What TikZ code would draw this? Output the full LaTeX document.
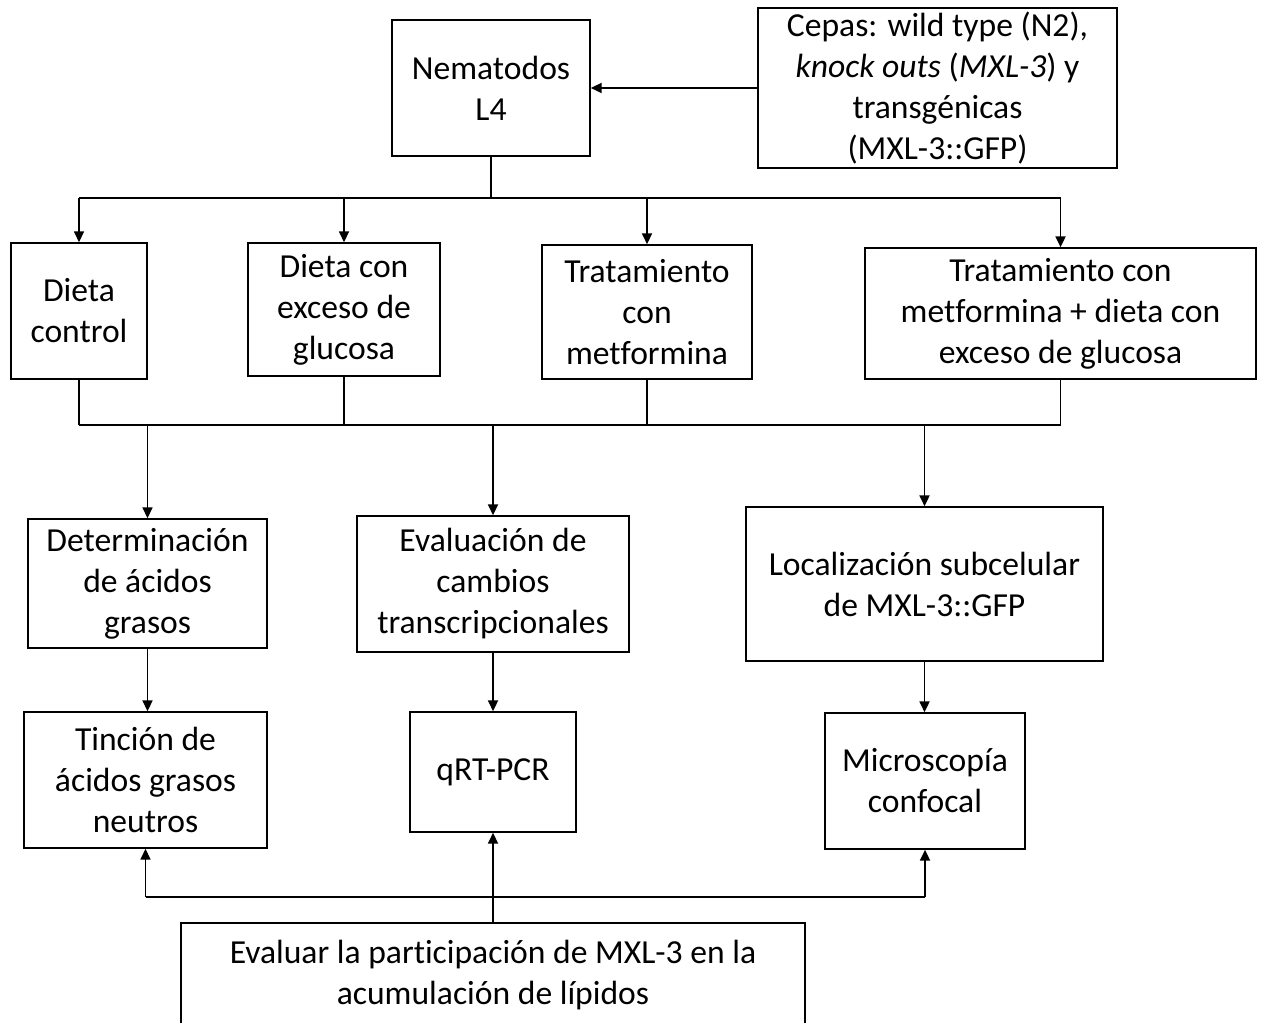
\documentclass[tikz,border=0pt]{standalone}
\usepackage{fontspec}
\setmainfont[Ligatures={NoCommon}]{Carlito}
\usetikzlibrary{arrows.meta}
\def\pxu{0.75pt}
\tikzset{
  box/.style={draw, line width=1.3pt, align=center, inner sep=0pt, fill=white,
    font=\fontsize{25.2}{30.75}\selectfont},
  ln/.style={line width=1.3pt},
  arr/.style={line width=1.3pt, -{Triangle[length=8pt,width=7.5pt]}}
}
\begin{document}
\begin{tikzpicture}[x=0.75pt,y=-0.75pt]
\useasboundingbox (0,0) rectangle (1264,1023);
\clip (0,0) rectangle (1264,1023);
\fill[white] (0,0) rectangle (1264,1023);
% top row
\node[box, minimum width=198*\pxu, minimum height=136*\pxu] (nem) at (491,88) {Nematodos\\L4};
\node[box, minimum width=359*\pxu, minimum height=160*\pxu] (cep) at (937.5,88) {Cepas: wild type (N2),\\\textit{knock outs} (\textit{MXL-3}) y\\transgénicas\\(MXL-3::GFP)};
% diets
\node[box, minimum width=136*\pxu, minimum height=136*\pxu] (dc) at (79,311) {Dieta\\control};
\node[box, minimum width=192*\pxu, minimum height=133*\pxu] (dg) at (344,309.5) {Dieta con\\exceso de\\glucosa};
\node[box, minimum width=210*\pxu, minimum height=134*\pxu] (tm) at (647,312) {Tratamiento\\con\\metformina};
\node[box, minimum width=391*\pxu, minimum height=131*\pxu] (tg) at (1060.5,313.5) {Tratamiento con\\metformina + dieta con\\exceso de glucosa};
% analyses
\node[box, minimum width=239*\pxu, minimum height=129*\pxu] (det) at (147.5,583.5) {Determinación\\de ácidos\\grasos};
\node[box, minimum width=272*\pxu, minimum height=136*\pxu] (eva) at (493,584) {Evaluación de\\cambios\\transcripcionales};
\node[box, minimum width=357*\pxu, minimum height=154*\pxu] (loc) at (924.5,584) {Localización subcelular\\de MXL-3::GFP};
% methods
\node[box, minimum width=243*\pxu, minimum height=136*\pxu] (tin) at (145.5,780) {Tinción de\\ácidos grasos\\neutros};
\node[box, minimum width=166*\pxu, minimum height=120*\pxu] (qrt) at (493,772) {qRT-PCR};
\node[box, minimum width=200*\pxu, minimum height=136*\pxu] (mic) at (925,781) {Microscopía\\confocal};
% objective
\node[box, minimum width=624*\pxu, minimum height=104*\pxu] (obj) at (493,975) {Evaluar la participación de MXL-3 en la\\acumulación de lípidos};
% connectors
\coordinate (j1) at (491,198);
\coordinate (j2) at (491,425);
\coordinate (j3) at (493,897);
\draw[arr] (cep.west) -- (cep.west -| nem.east);
\draw[ln] (nem.south) -- (j1);
\draw[ln] (dc.north |- j1) -- (tg.north |- j1);
\foreach \n in {dc,dg,tm,tg}{
  \draw[arr] (\n.north |- j1) -- (\n.north);
  \draw[ln] (\n.south) -- (\n.south |- j2);
}
\draw[ln] (dc.south |- j2) -- (tg.south |- j2);
\foreach \n in {det,eva,loc}{
  \draw[arr] (\n.north |- j2) -- (\n.north);
}
\draw[arr] (det.south) -- (det.south |- tin.north);
\draw[arr] (eva.south) -- (qrt.north);
\draw[arr] (loc.south) -- (loc.south |- mic.north);
\draw[arr] (obj.north) -- (obj.north |- qrt.south);
\draw[ln] (tin.south |- j3) -- (mic.south |- j3);
\draw[arr] (tin.south |- j3) -- (tin.south);
\draw[arr] (mic.south |- j3) -- (mic.south);
\end{tikzpicture}
\end{document}
